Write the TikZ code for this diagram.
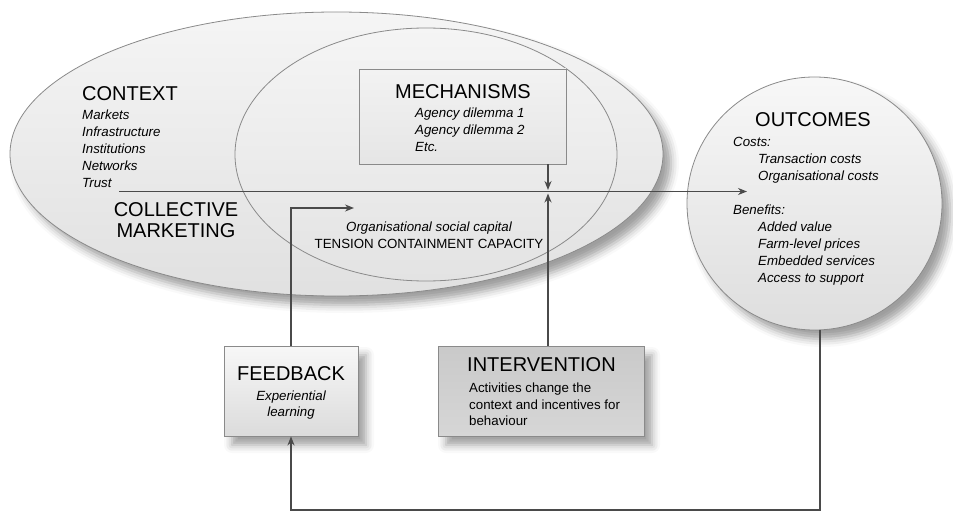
\documentclass[tikz,border=0pt]{standalone}
\usepackage{fontspec}
\setmainfont{Liberation Sans}
\usetikzlibrary{shapes.geometric,arrows.meta,shadows.blur}
\definecolor{edge}{HTML}{8A8A8A}
\definecolor{wire}{HTML}{4A4A4A}
\begin{document}
\begin{tikzpicture}[x=1pt,y=-1pt,
  blob/.style={ellipse, draw=edge, line width=0.8pt, inner sep=0pt},
  soft/.style={blur shadow={shadow xshift=8pt, shadow yshift=-9pt, shadow blur radius=8pt, shadow opacity=38}},
  panel/.style={rectangle, draw=edge, line width=0.8pt, inner sep=0pt},
  head/.style={font=\fontsize{20}{21}\selectfont, inner sep=0pt},
  item/.style={font=\itshape\fontsize{13.3}{17}\selectfont, inner sep=0pt, align=left},
  plain/.style={font=\fontsize{13.3}{16.5}\selectfont, inner sep=0pt},
  link/.style={draw=wire, line width=1.5pt},
  tip/.style={-{Stealth[length=9pt,width=7pt]}}
]
\useasboundingbox (0,0) rectangle (953,513);

% ---- ellipses: collective marketing, organisational capital, outcomes
\node[blob, soft, minimum width=653pt, minimum height=284pt,
      top color=white!96!black, bottom color=white!88!black] (coll) at (336.5,154) {};
\node[blob, minimum width=382pt, minimum height=253pt,
      top color=white!96!black, bottom color=white!89!black] (org) at (426,154.5) {};
\node[blob, soft, minimum width=255pt, minimum height=253pt,
      top color=white!97!black, bottom color=white!87!black] (outc) at (814.5,203.5) {};

% ---- boxes
\node[panel, minimum width=207pt, minimum height=95pt,
      top color=white!95!black, bottom color=white!90!black] (mech) at (462.5,116.5) {};
\node[panel, soft, minimum width=134pt, minimum height=90pt,
      top color=white!97!black, bottom color=white!86!black] (fb) at (291,391) {};
\node[panel, soft, minimum width=206pt, minimum height=90pt,
      top color=white!79!black, bottom color=white!84!black] (interv) at (541,391) {};

% ---- context
\node[head, anchor=west] (ctxT) at (82,94) {CONTEXT};
\node[item, anchor=north west] (ctxL) at (82,110)
  {Markets\\Infrastructure\\Institutions\\Networks\\Trust};
\node[head, align=center] (collT) at (176,220.5) {COLLECTIVE\\MARKETING};

% ---- mechanisms
\node[head] (mechT) at (463,92) {MECHANISMS};
\node[item, anchor=north west] (mechL) at (415,108)
  {Agency dilemma 1\\Agency dilemma 2\\Etc.};

% ---- organisational social capital
\node[plain, align=center, anchor=north] (orgL) at (429,222)
  {{\itshape Organisational social capital}\\TENSION CONTAINMENT CAPACITY};

% ---- outcomes
\node[head] (outT) at (813,120) {OUTCOMES};
\node[item, anchor=north west] (outL) at (733,137)
  {Costs:\\
   \hspace*{25pt}Transaction costs\\
   \hspace*{25pt}Organisational costs\\[17pt]
   Benefits:\\
   \hspace*{25pt}Added value\\
   \hspace*{25pt}Farm-level prices\\
   \hspace*{25pt}Embedded services\\
   \hspace*{25pt}Access to support};

% ---- feedback
\node[head] (fbT) at (291,374) {FEEDBACK};
\node[item, align=center, anchor=north, font=\itshape\fontsize{13.3}{15.5}\selectfont] (fbL) at (291,391)
  {Experiential\\learning};

% ---- intervention
\node[head, anchor=west] (intT) at (467,365) {INTERVENTION};
\node[plain, align=left, anchor=north west] (intL) at (469,383)
  {Activities change the\\context and incentives for\\behaviour};

% ---- connectors
\coordinate (trunkA) at (119,191.5);
\coordinate (trunkB) at (747,191.5);
\coordinate (meetTop) at (548,190);
\coordinate (meetBot) at (548,193.5);
\coordinate (fbTip) at (354,208);
\coordinate (loopCorner) at (820,510);

\draw[link, tip] (trunkA) -- (trunkB);
\draw[link, tip] (mech.south -| meetTop) -- (meetTop);
\draw[link, tip] (interv.north -| meetBot) -- (meetBot);
\draw[link, tip] (fb.north) |- (fbTip);
\draw[link, tip] (outc.south -| loopCorner) -- (loopCorner) -| (fb.south);
\end{tikzpicture}
\end{document}
